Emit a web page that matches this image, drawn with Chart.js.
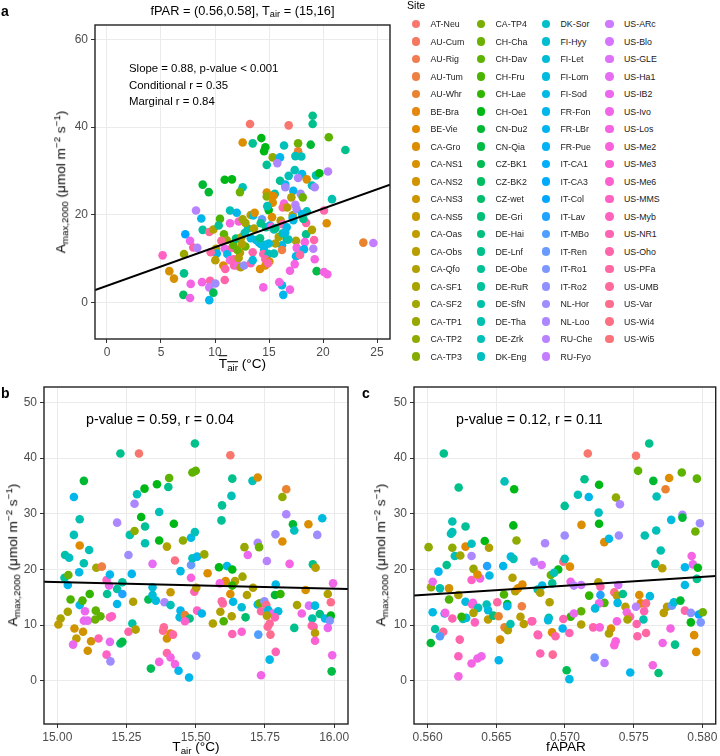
<!DOCTYPE html>
<html>
<head>
<meta charset="utf-8">
<script src="https://cdn.jsdelivr.net/npm/chart.js@4.4.1/dist/chart.umd.min.js"></script>
<style>
body { margin: 0; background: #fff; font-family: "Liberation Sans", Arial, sans-serif; }
#wrap { position: relative; width: 720px; height: 756px; overflow: hidden; }
canvas { position: absolute; }
.t { position: absolute; white-space: nowrap; color: #000; line-height: 1; }
.c { transform: translate(-50%, -50%); }
.rot { transform: translate(-50%, -50%) rotate(-90deg); }
.sub { font-size: 72%; vertical-align: -0.3em; line-height: 0; }
.sup { font-size: 72%; vertical-align: 0.55em; line-height: 0; }
.lab { font-weight: bold; font-size: 14px; }
.ax { font-size: 13.6px; }
.dot { position: absolute; width: 8.6px; height: 8.6px; border-radius: 50%; }
.lg { position: absolute; font-size: 8.8px; color: #1a1a1a; white-space: nowrap; line-height: 1; transform: translateY(-50%); }
</style>
</head>
<body>
<div id="wrap">
  <canvas id="chartA" style="left:0px;top:0px" width="400" height="370"></canvas>
  <canvas id="chartB" style="left:0px;top:370px" width="360" height="386"></canvas>
  <canvas id="chartC" style="left:360px;top:370px" width="360" height="386"></canvas>

  <div class="t lab" style="left:1px;top:4px">a</div>
  <div class="t lab" style="left:1px;top:386px">b</div>
  <div class="t lab" style="left:362px;top:386px">c</div>

  <div class="t c" style="left:242.5px;top:11px;font-size:12.8px">fPAR = (0.56,0.58], T<span class="sub">air</span> = (15,16]</div>
  <div class="t" style="left:129px;top:60px;font-size:11.4px;line-height:16.5px">Slope = 0.88, p-value &lt; 0.001<br>Conditional r = 0.35<br>Marginal r = 0.84</div>
  <div class="t" style="left:86px;top:412px;font-size:14.3px">p-value = 0.59, r = 0.04</div>
  <div class="t" style="left:456px;top:412px;font-size:14.3px">p-value = 0.12, r = 0.11</div>

  <div class="t rot ax" style="left:61px;top:182px">A<span class="sub">max,2000</span> (μmol m<span class="sup">−2</span> s<span class="sup">−1</span>)</div>
  <div class="t rot ax" style="left:13px;top:555px">A<span class="sub">max,2000</span> (μmol m<span class="sup">−2</span> s<span class="sup">−1</span>)</div>
  <div class="t rot ax" style="left:381px;top:555px">A<span class="sub">max,2000</span> (μmol m<span class="sup">−2</span> s<span class="sup">−1</span>)</div>

  <div class="t c ax" style="left:242.5px;top:364px"><span style="text-decoration:overline">T<span class="sub">air</span></span> (°C)</div>
  <div class="t c ax" style="left:196px;top:747px">T<span class="sub">air</span> (°C)</div>
  <div class="t c ax" style="left:566px;top:747px">fAPAR</div>

  <div class="t" style="left:407px;top:0px;font-size:10.6px">Site</div>
  <div id="legend"></div>
</div>

<script>
// Sites (legend order)
const sites = [
  "AT-Neu","AU-Cum","AU-Rig","AU-Tum","AU-Whr","BE-Bra","BE-Vie","CA-Gro","CA-NS1","CA-NS2",
  "CA-NS3","CA-NS5","CA-Oas","CA-Obs","CA-Qfo","CA-SF1","CA-SF2","CA-TP1","CA-TP2","CA-TP3",
  "CA-TP4","CH-Cha","CH-Dav","CH-Fru","CH-Lae","CH-Oe1","CN-Du2","CN-Qia","CZ-BK1","CZ-BK2",
  "CZ-wet","DE-Gri","DE-Hai","DE-Lnf","DE-Obe","DE-RuR","DE-SfN","DE-Tha","DE-Zrk","DK-Eng",
  "DK-Sor","FI-Hyy","FI-Let","FI-Lom","FI-Sod","FR-Fon","FR-LBr","FR-Pue","IT-CA1","IT-CA3",
  "IT-Col","IT-Lav","IT-MBo","IT-Ren","IT-Ro1","IT-Ro2","NL-Hor","NL-Loo","RU-Che","RU-Fyo",
  "US-ARc","US-Blo","US-GLE","US-Ha1","US-IB2","US-Ivo","US-Los","US-Me2","US-Me3","US-Me6",
  "US-MMS","US-Myb","US-NR1","US-Oho","US-PFa","US-UMB","US-Var","US-Wi4","US-Wi5"
];

// panel a: [mean Tair, Amax2000, site index]
const aPoints = [
  [13.24,40.7,0],[16.82,40.4,0],[19.04,42.6,33],[19.04,40.7,33],[12.56,36.5,7],[13.49,36.3,34],
  [14.29,37.5,25],[14.66,35.4,25],[14.54,34.5,25],[16.39,35.8,38],[17.69,36.3,21],[17.69,34.5,4],
  [18.86,36.0,26],[20.53,37.7,22],[22.07,34.8,33],[15.34,33.1,18],[16.02,33.1,45],[17.44,33.4,38],
  [17.99,33.3,38],[15.77,31.8,57],[14.79,31.4,34],[17.38,30.2,38],[16.82,28.9,38],[18.06,29.3,44],
  [17.69,28.4,57],[18.49,28.1,7],[19.35,29.0,37],[19.66,29.5,25],[20.46,29.9,58],[18.98,26.7,38],
  [19.23,26.3,57],[16.02,27.8,34],[16.51,26.9,44],[16.51,26.3,56],[15.53,24.8,37],[14.79,25.1,7],
  [14.79,24.2,18],[15.4,24.3,6],[17.25,25.5,45],[17.93,24.8,56],[17.07,24.0,14],[18.12,24.0,21],
  [20.83,23.6,37],[8.86,26.9,26],[9.42,25.2,26],[10.9,28.0,25],[11.57,28.1,25],[12.56,26.3,38],
  [12.31,25.2,21],[8.24,21.0,58],[8.73,19.2,45],[8.86,16.6,35],[7.25,15.6,50],[7.69,14.1,64],
  [7.99,12.6,73],[8.36,12.5,57],[7.13,11.1,17],[5.15,10.8,70],[5.77,7.2,8],[6.2,5.5,8],
  [7.13,6.7,33],[7.75,4.3,66],[8.8,4.7,66],[7.07,1.8,29],[7.69,1.1,65],[9.47,0.6,45],
  [9.54,5.0,73],[9.47,3.5,60],[10.03,4.4,56],[9.85,2.3,28],[10.9,5.2,73],[9.47,16.1,75],
  [9.85,16.7,14],[10.46,19.1,23],[10.34,17.6,34],[11.39,21.0,38],[12.01,20.5,45],[11.39,18.1,66],
  [12.19,18.5,67],[10.83,15.6,22],[11.08,14.3,17],[10.59,14.1,75],[10.09,12.3,14],[10.16,11.2,45],
  [9.6,11.5,74],[10.03,9.7,13],[10.9,12.3,64],[11.14,11.1,44],[11.57,12.5,72],[10.77,8.5,7],
  [10.95,7.7,73],[11.39,9.7,66],[11.7,9.9,72],[11.76,8.5,72],[12.13,8.4,66],[12.38,8.1,14],
  [12.19,10.2,14],[12.31,11.4,13],[11.7,13.1,22],[12.07,12.0,21],[11.94,14.6,32],[12.44,14.9,14],
  [12.81,12.8,21],[12.5,13.4,14],[12.69,8.5,55],[13.31,9.0,72],[13.49,11.5,73],[13.49,9.7,43],
  [13.06,16.9,37],[12.75,15.9,38],[12.81,18.2,16],[12.56,19.0,16],[13.31,20.0,14],[13.55,19.9,44],
  [13.67,20.5,7],[13.61,16.9,14],[13.31,14.7,44],[13.8,14.3,43],[14.05,13.8,43],[14.23,13.4,44],
  [14.66,13.2,43],[14.17,14.7,33],[14.35,19.0,53],[14.23,18.1,33],[14.97,21.1,25],[15.34,22.8,7],
  [14.84,22.0,38],[15.28,19.5,7],[14.72,17.2,33],[15.09,17.6,44],[15.2,17.3,66],[15.46,16.7,38],
  [15.6,17.0,33],[16.08,18.7,14],[16.27,17.9,73],[16.64,17.2,44],[16.39,22.6,66],[16.27,21.7,74],
  [16.69,21.7,13],[17.19,19.9,14],[17.19,19.3,44],[17.44,22.3,58],[17.56,21.3,57],[17.25,18.8,44],
  [18.49,20.8,38],[18.43,18.2,73],[18.06,20.2,44],[18.18,19.1,33],[18.43,15.6,33],[17.5,14.1,14],
  [18.31,13.8,66],[17.56,12.5,66],[18.24,12.2,45],[19.1,12.3,58],[18.98,16.6,14],[19.17,14.3,73],
  [19.23,9.9,66],[17.5,10.6,44],[17.87,10.9,74],[17.38,8.8,66],[16.94,7.3,66],[16.94,3.0,66],
  [16.32,1.8,45],[16.2,4.0,44],[15.95,4.7,66],[14.47,3.5,66],[19.41,7.2,27],[20.09,7.0,66],
  [20.4,6.5,66],[20.09,21.0,73],[20.34,18.1,7],[16.64,14.4,33],[16.8,14.4,38],[16.2,13.1,44],
  [15.59,13.5,14],[16.2,12.0,3],[14.97,13.5,44],[14.54,12.0,44],[14.47,11.1,73],[14.97,11.1,38],
  [15.46,11.2,38],[14.66,9.9,73],[15.03,9.4,7],[14.66,8.5,7],[14.17,7.7,7],[14.91,9.0,73],
  [15.9,15.0,14],[16.27,15.8,38],[16.5,16.0,44],[23.73,13.7,4],[24.66,13.6,59]
];

// panel b: [Tair, Amax2000, site index]
const bPoints = [
  [15.06,33.0,45],[15.096,35.9,26],[15.081,29.0,37],[15.06,26.2,38],[15.028,22.6,36],[15.043,22.1,39],
  [15.081,24.3,6],[15.115,23.5,38],[15.096,21.1,37],[15.079,19.5,44],[15.141,20.3,16],[15.161,20.5,3],
  [15.228,40.8,33],[15.295,40.8,0],[15.216,28.4,57],[15.279,31.8,57],[15.288,33.5,38],[15.315,34.5,25],
  [15.36,35.3,25],[15.404,36.4,22],[15.401,34.8,33],[15.303,29.4,25],[15.368,30.3,38],[15.317,27.7,34],
  [15.262,26.2,37],[15.279,26.9,18],[15.317,24.7,37],[15.257,22.6,56],[15.344,21.0,63],[15.368,25.2,25],
  [15.396,24.1,14],[15.421,28.2,25],[15.425,21.6,77],[15.454,25.2,18],[15.483,25.7,44],[15.497,26.7,38],
  [15.483,20.8,53],[15.488,22.0,39],[15.505,22.3,45],[15.497,42.6,33],[15.488,37.4,22],[15.5,37.7,22],
  [15.625,40.5,0],[15.632,36.3,33],[15.705,35.9,38],[15.724,36.5,7],[15.629,33.2,38],[15.595,31.5,34],
  [15.593,28.8,34],[15.827,34.4,4],[15.813,33.0,18],[15.827,29.9,57],[15.851,28.1,26],[15.856,27.0,39],
  [15.907,28.1,7],[15.957,29.2,43],[15.939,26.2,56],[15.788,26.3,56],[15.813,25.0,7],[15.724,24.8,57],
  [15.729,24.0,21],[15.676,24.0,17],[15.688,22.6,64],[15.757,21.5,58],[15.839,21.0,66],[15.923,20.9,33],
  [15.933,20.3,13],[15.531,22.7,17],[15.584,20.4,25],[15.613,20.6,45],[15.632,20.0,25],
  [15.026,18.5,35],[15.04,19.0,21],[15.038,17.2,45],[15.048,14.6,23],[15.038,12.4,15],[15.012,11.2,15],
  [15.004,10.1,12],[15.081,13.6,44],[15.091,14.4,23],[15.1,12.5,64],[15.096,10.8,64],[15.11,10.8,63],
  [15.062,9.4,9],[15.093,8.8,9],[15.069,7.6,12],[15.057,6.5,64],[15.122,7.1,9],[15.11,5.4,9],
  [15.117,15.6,24],[15.139,12.6,22],[15.137,11.0,21],[15.156,11.6,22],[15.149,7.6,72],[15.18,15.6,34],
  [15.187,17.1,64],[15.178,18.1,70],[15.19,19.1,45],[15.216,16.5,35],[15.235,17.7,35],[15.235,15.6,51],
  [15.216,13.8,45],[15.19,11.4,72],[15.197,11.6,70],[15.19,7.0,63],[15.228,6.7,31],[15.235,7.0,27],
  [15.178,4.7,70],[15.192,3.5,56],[15.257,8.8,73],[15.269,19.2,45],[15.274,14.2,14],[15.271,10.3,36],
  [15.283,9.2,14],[15.329,14.6,28],[15.344,16.8,42],[15.344,15.4,42],[15.356,14.4,43],[15.338,2.2,28],
  [15.368,3.4,66],[15.387,14.1,57],[15.385,9.6,75],[15.382,9.0,75],[15.409,15.9,11],[15.409,13.6,38],
  [15.396,7.6,9],[15.409,8.5,5],[15.418,8.3,74],[15.396,5.0,74],[15.409,4.2,66],[15.425,3.0,66],
  [15.438,1.8,45],[15.445,19.7,44],[15.445,12.6,45],[15.442,11.4,43],[15.461,11.8,4],[15.478,11.2,32],
  [15.461,10.7,69],[15.483,18.5,67],[15.495,16.0,72],[15.502,16.7,13],[15.505,12.6,70],[15.476,0.6,45],
  [15.502,4.5,55],
  [15.543,19.3,7],[15.669,18.7,16],[15.608,17.9,7],[15.642,17.9,14],[15.632,17.1,24],[15.587,17.5,66],
  [15.707,16.7,14],[15.625,15.6,7],[15.685,15.4,14],[15.789,17.3,44],[15.786,15.4,26],[15.806,15.6,24],
  [15.897,16.3,8],[15.977,15.6,14],[15.996,17.5,65],[15.594,14.3,74],[15.598,13.9,74],[15.635,14.2,44],
  [15.666,13.2,42],[15.522,12.1,45],[15.589,12.4,14],[15.63,11.6,14],[15.601,10.7,23],[15.562,10.3,14],
  [15.68,11.4,30],[15.724,13.7,44],[15.731,13.9,21],[15.748,14.3,55],[15.755,13.6,76],[15.736,12.5,74],
  [15.762,12.7,43],[15.779,12.1,64],[15.798,12.5,43],[15.786,11.4,72],[15.757,11.7,14],[15.767,10.3,75],
  [15.76,9.7,75],[15.77,8.3,76],[15.726,8.3,52],[15.632,8.4,72],[15.666,8.8,68],[15.866,13.6,15],
  [15.909,13.5,62],[15.931,13.5,43],[15.883,12.1,66],[15.948,12.0,32],[15.921,11.2,36],[15.967,11.2,44],
  [15.988,11.7,25],[15.984,10.8,54],[15.988,14.1,76],[15.919,9.9,73],[15.926,9.7,73],[15.856,9.5,33],
  [15.931,8.6,13],[15.977,9.5,64],[15.931,7.2,68],[15.789,5.2,72],[15.767,3.8,44],[15.736,1.0,65],
  [15.993,4.6,65],[15.991,1.7,27]
];

// panel c: [fAPAR, Amax2000, site index]
const cPoints = [
  [0.56118,40.8,33],[0.56226,34.7,33],[0.5618,28.6,37],[0.5617,26.4,38],[0.5618,26.7,38],[0.56276,27.7,34],
  [0.56007,24.0,18],[0.5618,23.9,18],[0.56198,22.4,38],[0.56238,22.5,16],[0.56276,24.1,6],[0.5632,24.6,39],
  [0.5632,22.4,57],[0.56416,25.1,25],[0.56447,23.9,14],[0.56433,20.6,51],[0.56139,20.8,33],[0.56079,19.6,45],
  [0.56334,20.1,17],[0.5656,35.8,38],[0.5663,34.4,25],[0.56624,27.9,25],[0.56647,25.2,18],[0.56606,22.3,44],
  [0.56625,21.9,38],[0.56776,21.4,58],[0.57166,40.8,0],[0.57517,40.4,0],[0.57613,42.6,33],[0.57532,37.7,22],
  [0.57643,35.9,26],[0.57758,36.4,7],[0.5785,37.4,22],[0.5796,36.3,22],[0.57732,34.4,4],[0.57667,33.1,38],
  [0.57142,36.2,33],[0.57248,35.2,25],[0.57094,33.4,38],[0.57173,33.0,45],[0.57371,32.9,18],[0.574,31.7,57],
  [0.56998,31.4,34],[0.57245,30.2,39],[0.57248,28.2,25],[0.5712,28.0,7],[0.56998,26.1,56],[0.56855,24.7,57],
  [0.57286,24.9,7],[0.5732,25.5,44],[0.57392,26.1,56],[0.57581,26.1,37],[0.57664,27.0,38],[0.57773,28.9,43],
  [0.57855,29.8,57],[0.57855,29.3,26],[0.57982,28.3,56],[0.57949,26.8,21],[0.57697,23.4,37],[0.57658,21.0,36],
  [0.57708,20.2,13],[0.57922,22.4,66],[0.57931,20.9,64],[0.57873,20.4,45],[0.57967,20.3,25],[0.5683,20.8,62],
  [0.56988,21.4,77],[0.56998,21.9,38],[0.57036,20.5,7],[0.56951,20.0,25],
  [0.56025,16.8,17],[0.56037,17.8,64],[0.5609,16.6,37],[0.56156,16.6,9],[0.56224,15.4,14],[0.56156,14.6,23],
  [0.56276,14.2,43],[0.56037,12.3,44],[0.56124,12.1,51],[0.56128,12.2,66],[0.5618,11.2,72],[0.56055,9.3,35],
  [0.56114,8.8,75],[0.5609,8.0,52],[0.56023,6.8,26],[0.56257,11.1,37],[0.56281,11.3,42],[0.56247,11.5,24],
  [0.56234,7.4,73],[0.56224,4.4,71],[0.56224,0.8,66],[0.5632,3.1,66],[0.56363,4.0,65],[0.56392,4.4,65],
  [0.56325,13.7,72],[0.5633,14.0,66],[0.56368,13.1,38],[0.56334,12.2,14],[0.56344,10.5,71],[0.5632,18.1,70],
  [0.56382,18.4,65],[0.56363,19.1,7],[0.5645,18.9,44],[0.5643,13.7,38],[0.5644,12.7,43],[0.5644,11.0,13],
  [0.56478,11.7,32],[0.56517,11.6,4],[0.56507,14.1,74],[0.56556,15.5,23],[0.5658,13.8,26],[0.5658,13.4,44],
  [0.5656,9.6,4],[0.56584,9.1,14],[0.56528,7.4,8],[0.56518,3.7,45],[0.56603,10.2,37],[0.5655,20.6,45],
  [0.56618,18.5,14],[0.56638,16.1,14],[0.56658,16.6,7],[0.5669,17.3,6],[0.56686,13.4,3],[0.56676,11.5,13],
  [0.567,10.2,13],[0.56762,10.7,73],[0.56801,8.3,72],[0.56801,16.4,37],[0.5682,4.9,72],
  [0.56897,19.0,21],[0.56921,19.4,38],[0.56834,17.1,44],[0.56907,17.5,34],[0.5682,15.8,14],[0.57041,17.8,65],
  [0.57065,17.1,58],[0.57118,17.2,60],[0.57243,17.7,14],[0.57258,16.9,73],[0.57388,17.2,61],[0.56888,14.1,14],
  [0.57176,15.3,24],[0.57258,15.4,51],[0.57359,15.9,76],[0.57378,15.3,13],[0.57421,15.6,33],[0.57287,14.0,23],
  [0.57248,13.9,64],[0.57383,14.0,44],[0.57219,13.0,43],[0.5744,13.3,13],[0.5745,12.3,66],[0.57541,15.4,7],
  [0.57618,15.2,43],[0.57551,13.9,6],[0.5759,13.9,76],[0.57517,13.3,58],[0.57576,12.5,72],[0.57571,11.0,37],
  [0.57474,11.5,73],[0.57455,11.0,15],[0.57522,10.2,73],[0.57378,10.7,66],[0.57335,9.4,7],[0.5732,8.5,14],
  [0.57369,7.1,67],[0.57359,6.4,67],[0.57205,9.6,73],[0.57253,9.6,67],[0.57118,10.1,14],[0.57118,12.5,22],
  [0.57041,11.5,24],[0.57065,12.1,64],[0.56988,11.1,72],[0.56983,9.4,46],[0.56882,11.3,37],[0.56877,10.9,43],
  [0.56757,10.7,72],[0.56906,8.7,7],[0.56931,8.0,73],[0.56805,8.2,72],[0.57032,8.6,72],[0.56911,4.7,75],
  [0.57012,1.9,28],[0.57032,0.3,44],[0.57216,4.2,53],[0.57288,3.2,59],[0.57475,1.5,45],[0.57639,2.8,66],
  [0.57681,1.4,31],[0.5759,8.6,74],[0.57527,8.0,73],[0.57711,6.8,65],[0.57768,9.4,66],[0.57801,6.5,33],
  [0.57873,17.2,44],[0.5796,18.3,33],[0.57743,13.3,13],[0.57719,12.2,13],[0.57778,13.5,53],[0.57793,14.1,43],
  [0.5784,14.4,26],[0.57873,12.6,73],[0.57916,12.2,55],[0.57974,11.9,50],[0.58003,12.3,21],[0.57916,10.5,25],
  [0.57988,10.5,54],[0.5794,8.2,7],[0.57955,5.2,7]
];

// fitted lines, read at the panel edges
const aLineX = [-1.1, 26.2], aLineY = [2.9, 26.9];
const bLineX = [14.952, 16.05], bLineY = [17.8, 16.5];
const cLineX = [0.559, 0.581], cLineY = [15.3, 18.8];

// ticks
const aXTicks = [0, 5, 10, 15, 20, 25];
const aYTicks = [0, 20, 40, 60];
const bXTicks = [15, 15.25, 15.5, 15.75, 16];
const cXTicks = [0.56, 0.565, 0.57, 0.575, 0.58];
const bcYTicks = [0, 10, 20, 30, 40, 50];

// ggplot hue palette: hcl(h, c=100, l=65)
function hcl(h, c, l) {
  const hr = h * Math.PI / 180;
  const U = c * Math.cos(hr), V = c * Math.sin(hr);
  const Xn = 95.047, Yn = 100, Zn = 108.883;
  const den = Xn + 15 * Yn + 3 * Zn;
  const un = 4 * Xn / den, vn = 9 * Yn / den;
  const Y = Yn * Math.pow((l + 16) / 116, 3);
  const u = U / (13 * l) + un, v = V / (13 * l) + vn;
  const X = 9 * Y * u / (4 * v);
  const Z = Y * (12 - 3 * u - 20 * v) / (4 * v);
  const x = X / 100, y = Y / 100, z = Z / 100;
  let rgb = [
    3.240479 * x - 1.537150 * y - 0.498535 * z,
    -0.969256 * x + 1.875992 * y + 0.041556 * z,
    0.055648 * x - 0.204043 * y + 1.057311 * z
  ];
  rgb = rgb.map(k => {
    k = k <= 0.0031308 ? 12.92 * k : 1.055 * Math.pow(k, 1 / 2.4) - 0.055;
    return Math.round(Math.min(1, Math.max(0, k)) * 255);
  });
  return "rgb(" + rgb.join(",") + ")";
}
const siteColors = sites.map((s, i) => hcl(15 + i * 360 / 79, 100, 65));

// legend (4 columns x 20 rows)
const legend = document.getElementById("legend");
const legColX = [416, 481, 546, 609.5];
sites.forEach((s, i) => {
  const col = Math.floor(i / 20), row = i % 20;
  const cy = 24 + row * 17.5;
  const d = document.createElement("div");
  d.className = "dot";
  d.style.left = (legColX[col] - 4.3) + "px";
  d.style.top = (cy - 4.3) + "px";
  d.style.background = siteColors[i];
  legend.appendChild(d);
  const t = document.createElement("div");
  t.className = "lg";
  t.style.left = (legColX[col] + 14.5) + "px";
  t.style.top = cy + "px";
  t.textContent = s;
  legend.appendChild(t);
});

// full panel border, drawn over the points
const borderPlugin = {
  id: "panelBorder",
  afterDatasetsDraw(chart) {
    const a = chart.chartArea, ctx = chart.ctx;
    ctx.save();
    ctx.strokeStyle = "#222";
    ctx.lineWidth = 1.4;
    ctx.strokeRect(a.left, a.top, a.right - a.left, a.bottom - a.top);
    ctx.restore();
  }
};

function makePanel(id, pts, lineX, lineY, xr, yr, xTicks, yTicks, xFmt, box) {
  const tickFont = { family: "Liberation Sans, Arial, sans-serif", size: 12 };
  new Chart(document.getElementById(id), {
    type: "scatter",
    data: {
      datasets: [
        {
          type: "line",
          data: lineX.map((x, i) => ({ x: x, y: lineY[i] })),
          borderColor: "#000",
          borderWidth: 2,
          pointRadius: 0,
          fill: false
        },
        {
          data: pts.map(p => ({ x: p[0], y: p[1] })),
          pointRadius: 4.3,
          pointBorderWidth: 0,
          pointBackgroundColor: pts.map(p => siteColors[p[2]]),
          backgroundColor: pts.map(p => siteColors[p[2]])
        }
      ]
    },
    options: {
      responsive: false,
      animation: false,
      events: [],
      layout: { padding: { top: box.top, right: box.right, bottom: 0, left: 0 } },
      plugins: { legend: { display: false }, tooltip: { enabled: false } },
      scales: {
        x: {
          type: "linear",
          min: xr[0], max: xr[1],
          afterBuildTicks: s => { s.ticks = xTicks.map(v => ({ value: v })); },
          afterFit: s => { s.height = box.bottom; },
          grid: { color: "#ebebeb", lineWidth: 1, tickColor: "#333", tickLength: 4 },
          border: { display: false },
          ticks: { color: "#4d4d4d", font: tickFont, padding: 2, maxRotation: 0, callback: v => xFmt(v) }
        },
        y: {
          type: "linear",
          min: yr[0], max: yr[1],
          afterBuildTicks: s => { s.ticks = yTicks.map(v => ({ value: v })); },
          afterFit: s => { s.width = box.left; },
          grid: { color: "#ebebeb", lineWidth: 1, tickColor: "#333", tickLength: 4 },
          border: { display: false },
          ticks: { color: "#4d4d4d", font: tickFont, padding: 3, callback: v => String(v) }
        }
      }
    },
    plugins: [borderPlugin]
  });
}

makePanel("chartA", aPoints, aLineX, aLineY, [-1.11, 26.2], [-8.25, 63.25],
  aXTicks, aYTicks, v => String(v), { left: 95, top: 25, right: 10, bottom: 31 });
makePanel("chartB", bPoints, bLineX, bLineY, [14.952, 16.05], [-7.75, 52.75],
  bXTicks, bcYTicks, v => v.toFixed(2), { left: 44, top: 17, right: 12, bottom: 32 });
makePanel("chartC", cPoints, cLineX, cLineY, [0.55901, 0.58097], [-7.75, 52.75],
  cXTicks, bcYTicks, v => v.toFixed(3), { left: 54, top: 17, right: 2, bottom: 32 });
</script>
</body>
</html>
